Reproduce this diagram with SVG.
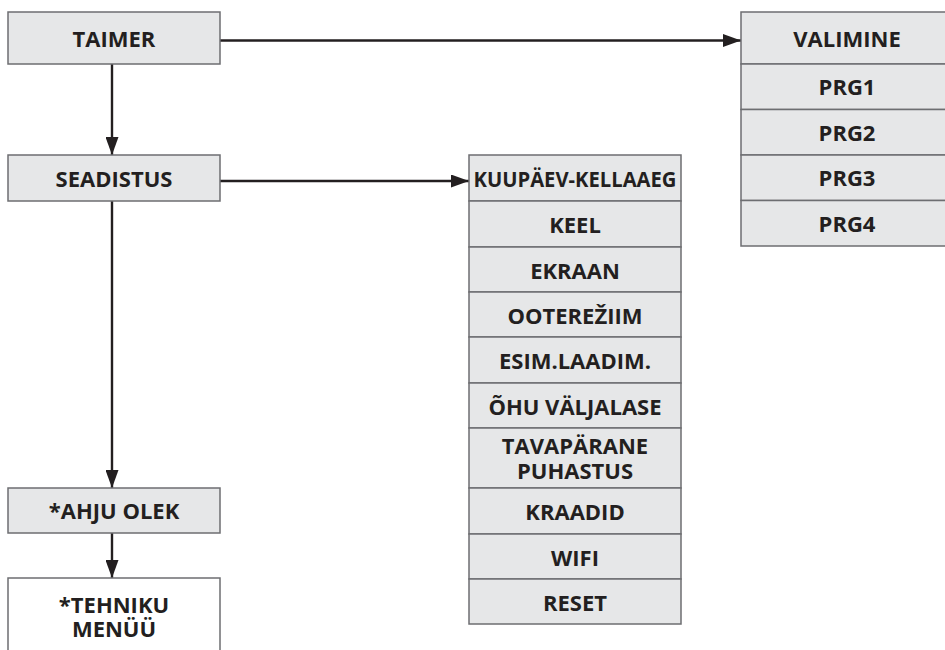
<svg xmlns="http://www.w3.org/2000/svg" width="945" height="650" viewBox="0 0 945 650">
<style>
.box{fill:#e6e7e8;stroke:#6d6e71;stroke-width:1.5}
.wbox{fill:#ffffff;stroke:#6d6e71;stroke-width:1.5}
.t{font-family:"Open Sans","Liberation Sans",sans-serif;font-weight:700;font-size:22px;fill:#231f20;text-anchor:middle}
.c{fill:none;stroke:#231f20;stroke-width:2.4}
</style>
<defs>
<marker id="ah" markerUnits="userSpaceOnUse" markerWidth="18" markerHeight="13" refX="18" refY="6.5" orient="auto">
<path d="M0,0 L18,6.5 L0,13 z" fill="#231f20"/>
</marker>
</defs>
<rect width="945" height="650" fill="#ffffff"/>
<g id="connectors">
<line class="c" x1="220" y1="40.5" x2="741" y2="40.5" marker-end="url(#ah)"/>
<line class="c" x1="112" y1="64" x2="112" y2="155" marker-end="url(#ah)"/>
<line class="c" x1="220" y1="181" x2="469" y2="181" marker-end="url(#ah)"/>
<line class="c" x1="112" y1="201" x2="112" y2="488" marker-end="url(#ah)"/>
<line class="c" x1="112" y1="533" x2="112" y2="578" marker-end="url(#ah)"/>
</g>
<g id="taimer"><rect class="box" x="8" y="12" width="212" height="52"/><text class="t" x="114" y="46.5">TAIMER</text></g>
<g id="seadistus"><rect class="box" x="8" y="155" width="212" height="46"/><text class="t" x="114" y="186.5">SEADISTUS</text></g>
<g id="ahju-olek"><rect class="box" x="8" y="488" width="212" height="45"/><text class="t" x="114" y="519">*AHJU OLEK</text></g>
<g id="tehniku-menuu"><rect class="wbox" x="8" y="578" width="212" height="90"/><text class="t" x="114" y="612.5">*TEHNIKU</text><text class="t" x="114" y="636.5">MENÜÜ</text></g>
<g id="valimine"><rect class="box" x="741" y="12" width="212" height="52"/><text class="t" x="847" y="46.5">VALIMINE</text></g>
<g id="prg1"><rect class="box" x="741" y="64" width="212" height="45.5"/><text class="t" x="847" y="95">PRG1</text></g>
<g id="prg2"><rect class="box" x="741" y="109.5" width="212" height="45.5"/><text class="t" x="847" y="140.5">PRG2</text></g>
<g id="prg3"><rect class="box" x="741" y="155" width="212" height="45.5"/><text class="t" x="847" y="186">PRG3</text></g>
<g id="prg4"><rect class="box" x="741" y="200.5" width="212" height="45.5"/><text class="t" x="847" y="231.5">PRG4</text></g>
<g id="kuupaev-kellaaeg"><rect class="box" x="469" y="155" width="212" height="46"/><text class="t" x="575" y="187" textLength="203" lengthAdjust="spacingAndGlyphs">KUUPÄEV-KELLAAEG</text></g>
<g id="keel"><rect class="box" x="469" y="201" width="212" height="46"/><text class="t" x="575" y="233">KEEL</text></g>
<g id="ekraan"><rect class="box" x="469" y="247" width="212" height="45"/><text class="t" x="575" y="278.5">EKRAAN</text></g>
<g id="ooterezhiim"><rect class="box" x="469" y="292" width="212" height="45"/><text class="t" x="575" y="323.5">OOTEREŽIIM</text></g>
<g id="esim-laadim"><rect class="box" x="469" y="337" width="212" height="46"/><text class="t" x="575" y="369">ESIM.LAADIM.</text></g>
<g id="ohu-valjalase"><rect class="box" x="469" y="383" width="212" height="45"/><text class="t" x="575" y="414.5">ÕHU VÄLJALASE</text></g>
<g id="tavaparane-puhastus"><rect class="box" x="469" y="428" width="212" height="60"/><text class="t" x="575" y="454.3">TAVAPÄRANE</text><text class="t" x="575" y="479.3">PUHASTUS</text></g>
<g id="kraadid"><rect class="box" x="469" y="488" width="212" height="46"/><text class="t" x="575" y="520">KRAADID</text></g>
<g id="wifi"><rect class="box" x="469" y="534" width="212" height="45"/><text class="t" x="575" y="565.5">WIFI</text></g>
<g id="reset"><rect class="box" x="469" y="579" width="212" height="45"/><text class="t" x="575" y="610.5">RESET</text></g>
</svg>
